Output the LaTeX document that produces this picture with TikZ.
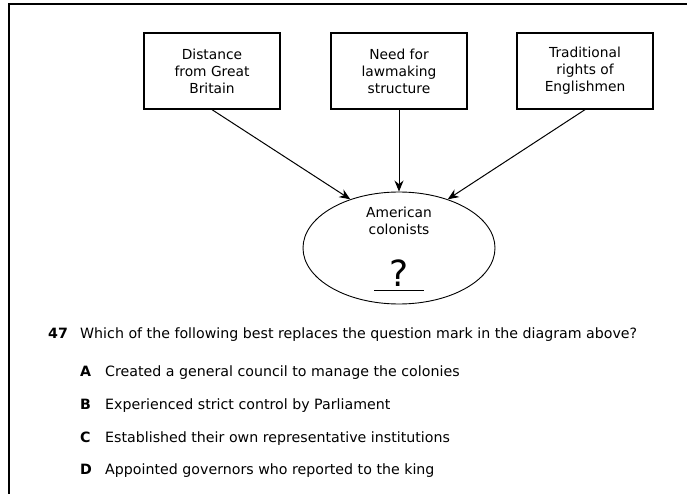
\documentclass[tikz,border=0pt]{standalone}
\usepackage{fontspec}
\setmainfont{DejaVu Sans}
\usetikzlibrary{arrows.meta,shapes.geometric}

\begin{document}
\begin{tikzpicture}[x=1pt,y=-1pt,
    cause/.style={draw,line width=1.3pt,minimum width=136pt,minimum height=76pt,
      inner sep=0pt,align=center,font=\fontsize{13.8}{17}\selectfont},
    feed/.style={-{Stealth[length=11pt,width=9pt]},line width=1pt},
    choice/.style={anchor=base west,inner sep=0pt,font=\fontsize{14.2}{16}\selectfont}]
  \useasboundingbox (0,0) rectangle (687,494);
  % page frame
  \draw[line width=2pt] (9,494) -- (9,4.5) -- (687,4.5);

  % the three causes
  \node[cause] (distance) at (212,71) {Distance\\from Great\\Britain};
  \node[cause] (need) at (399,71) {Need for\\lawmaking\\structure};
  \node[cause] (rights) at (585,71) {Traditional\\rights of\\Englishmen};

  % the colonists
  \node[ellipse,draw,line width=0.9pt,minimum width=192pt,minimum height=112pt] (colonists) at (399,248) {};
  \node[align=center,font=\fontsize{13.8}{17}\selectfont] (who) at (399,221) {American\\colonists};
  \node[anchor=base,font=\fontsize{36}{38}\selectfont,inner sep=0pt] (mark) at (399,286) {?};
  \draw[line width=1pt] ([xshift=-25pt,yshift=-4pt]mark.base) -- ([xshift=25pt,yshift=-4pt]mark.base);

  \draw[feed] (distance.south) -- (colonists.135);
  \draw[feed] (need.south) -- (colonists.north);
  \draw[feed] (rights.south) -- (colonists.45);

  % question and choices
  \node[choice] (num) at (48,338) {\bfseries 47};
  \node[choice] (stem) at (80,338) {Which of the following best replaces the question mark in the diagram above?};
  \node[choice] (la) at (80,376) {\bfseries A};
  \node[choice] (ta) at (105,376) {Created a general council to manage the colonies};
  \node[choice] (lb) at (80,409) {\bfseries B};
  \node[choice] (tb) at (105,409) {Experienced strict control by Parliament};
  \node[choice] (lc) at (80,442) {\bfseries C};
  \node[choice] (tc) at (105,442) {Established their own representative institutions};
  \node[choice] (ld) at (80,474) {\bfseries D};
  \node[choice] (td) at (105,474) {Appointed governors who reported to the king};
\end{tikzpicture}
\end{document}
